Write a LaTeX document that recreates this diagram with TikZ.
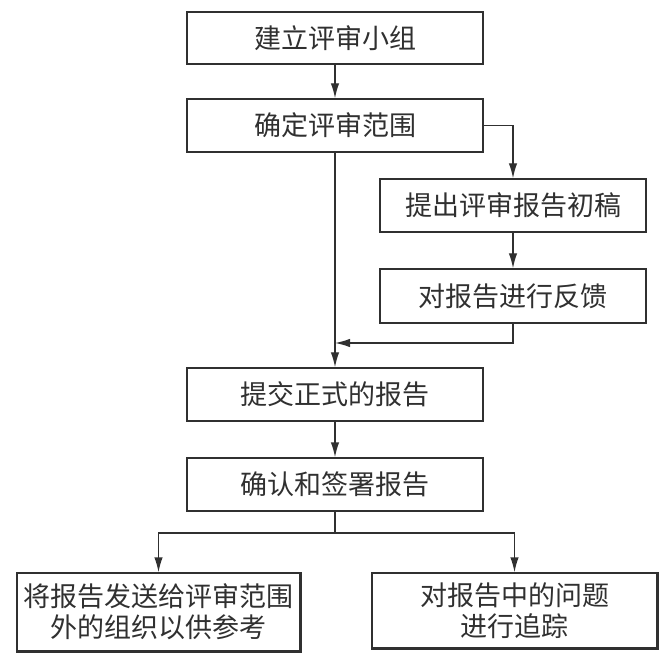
\documentclass[tikz,border=0pt]{standalone}
\usepackage{fontspec}
\newfontfamily\cjk{Noto Sans CJK SC}
\usetikzlibrary{arrows.meta}
\definecolor{ink}{HTML}{303030}
\tikzset{
  box/.style={draw=ink, line width=1.4pt, fill=white, inner sep=0pt, align=center,
    font=\cjk\fontsize{27}{31}\selectfont, text=ink},
  arr/.style={draw=ink, line width=1.4pt, -{Latex[length=15pt,width=8.5pt]}},
  ln/.style={draw=ink, line width=1.4pt},
  edge/.style={draw=ink, line width=3pt},
}
\begin{document}
\begin{tikzpicture}[x=1pt,y=-1pt]
\useasboundingbox[fill=white] (0,0) rectangle (670,663);
\node[box, minimum width=296pt, minimum height=52pt] (b1) at (335,38) {建立评审小组};
\node[box, minimum width=296pt, minimum height=53pt] (b2) at (335,125.5) {确定评审范围};
\node[box, minimum width=266pt, minimum height=53pt] (b3) at (513,205.5) {提出评审报告初稿};
\node[box, minimum width=266pt, minimum height=54pt] (b4) at (513,296) {对报告进行反馈};
\node[box, minimum width=296pt, minimum height=53pt] (b5) at (335,394.5) {提交正式的报告};
\node[box, minimum width=296pt, minimum height=53pt] (b6) at (335,484.5) {确认和签署报告};
\node[box, minimum width=283pt, minimum height=78pt] (b7) at (158.5,612) {将报告发送给评审范围\\外的组织以供参考};
\node[box, minimum width=285pt, minimum height=75pt] (b8) at (514.5,610.5) {对报告中的问题\\进行追踪};
\draw[edge] (b7.south west) -- (b7.south east) -- (b7.north east);
\draw[edge] (b8.south west) -- (b8.south east) -- (b8.north east);
\coordinate (m) at (335,343);
\coordinate (j) at (335,533);
\draw[arr] (b1.south) -- (b2.north);
\draw[arr] (b2.east) -| (b3.north);
\draw[arr] (b3.south) -- (b4.north);
\draw[arr] (b4.south) |- (m);
\draw[arr] (b2.south) -- (b5.north);
\draw[arr] (b5.south) -- (b6.north);
\draw[ln] (b6.south) -- (j);
\draw[arr] (j) -| (b7.north);
\draw[arr] (j) -| (b8.north);
\end{tikzpicture}
\end{document}
